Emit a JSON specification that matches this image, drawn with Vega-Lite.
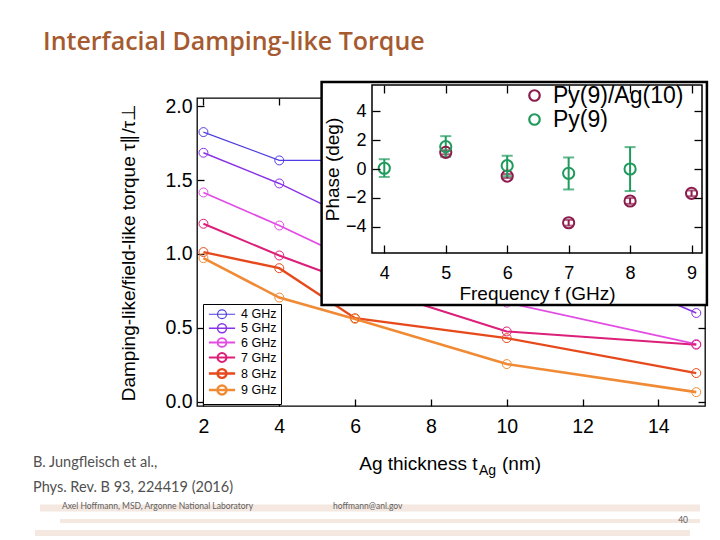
{
  "$schema": "https://vega.github.io/schema/vega-lite/v6.json",
  "width": 508,
  "height": 308,
  "autosize": {"type": "none"},
  "padding": {"left": 197, "top": 98, "right": 15, "bottom": 134},
  "background": "white",
  "title": {
    "text": "Interfacial Damping-like Torque",
    "anchor": "start",
    "frame": "group",
    "dx": -154,
    "offset": 0,
    "dy": -26,
    "font": "Open Sans",
    "fontSize": 25,
    "fontWeight": 600,
    "color": "#a65a30"
  },
  "config": {
    "view": {"stroke": "black", "strokeWidth": 1.3},
    "font": "Liberation Sans",
    "axis": {
      "labelFont": "Liberation Sans",
      "titleFont": "Liberation Sans",
      "labelColor": "black",
      "titleColor": "black",
      "tickColor": "black",
      "domainColor": "black",
      "grid": false,
      "titleFontWeight": "normal",
      "labelFlush": false,
      "labelOverlap": false,
      "tickWidth": 1.3
    },
    "legend": {"labelFont": "Liberation Sans", "labelColor": "black"}
  },
  "resolve": {
    "scale": {"x": "independent", "y": "independent", "color": "independent", "strokeWidth": "independent"},
    "axis": {"x": "independent", "y": "independent"},
    "legend": {"color": "independent", "strokeWidth": "independent"}
  },
  "layer": [
    {
      "layer": [
        {
          "data": {"values": [{"band": 1}]},
          "mark": {"type": "rule", "color": "#f4e8e0", "strokeWidth": 7},
          "encoding": {"x": {"datum": -2.311, "type": "quantitative", "scale": {"domain": [1.83, 15.23], "nice": false, "zero": false}}, "x2": {"datum": 15.098}, "y": {"datum": -0.721, "type": "quantitative", "scale": {"domain": [-0.03, 2.057], "nice": false, "zero": false}}}
        },
        {
          "data": {"values": [{"band": 2}]},
          "mark": {"type": "rule", "color": "#f4e8e0", "strokeWidth": 4},
          "encoding": {"x": {"datum": -1.784, "type": "quantitative"}, "x2": {"datum": 15.098}, "y": {"datum": -0.809, "type": "quantitative"}}
        },
        {
          "data": {"values": [{"band": 3}]},
          "mark": {"type": "rule", "color": "#f4e8e0", "strokeWidth": 6},
          "encoding": {"x": {"datum": -2.443, "type": "quantitative"}, "x2": {"datum": 14.834}, "y": {"datum": -0.89, "type": "quantitative"}}
        },
        {
          "data": {"values": [
            {"freq": "4 GHz", "t": 2, "ratio": 1.826},
            {"freq": "4 GHz", "t": 4, "ratio": 1.634},
            {"freq": "4 GHz", "t": 6, "ratio": 1.634},
            {"freq": "4 GHz", "t": 10, "ratio": 1.35},
            {"freq": "4 GHz", "t": 15, "ratio": 1.05},
            {"freq": "5 GHz", "t": 2, "ratio": 1.686},
            {"freq": "5 GHz", "t": 4, "ratio": 1.478},
            {"freq": "5 GHz", "t": 6, "ratio": 1.23},
            {"freq": "5 GHz", "t": 10, "ratio": 1.15},
            {"freq": "5 GHz", "t": 15, "ratio": 0.6},
            {"freq": "6 GHz", "t": 2, "ratio": 1.417},
            {"freq": "6 GHz", "t": 4, "ratio": 1.193},
            {"freq": "6 GHz", "t": 6, "ratio": 0.95},
            {"freq": "6 GHz", "t": 10, "ratio": 0.67},
            {"freq": "6 GHz", "t": 15, "ratio": 0.39},
            {"freq": "7 GHz", "t": 2, "ratio": 1.205},
            {"freq": "7 GHz", "t": 4, "ratio": 0.99},
            {"freq": "7 GHz", "t": 6, "ratio": 0.8},
            {"freq": "7 GHz", "t": 10, "ratio": 0.475},
            {"freq": "7 GHz", "t": 15, "ratio": 0.385},
            {"freq": "8 GHz", "t": 2, "ratio": 1.013},
            {"freq": "8 GHz", "t": 4, "ratio": 0.904},
            {"freq": "8 GHz", "t": 6, "ratio": 0.565},
            {"freq": "8 GHz", "t": 10, "ratio": 0.43},
            {"freq": "8 GHz", "t": 15, "ratio": 0.193},
            {"freq": "9 GHz", "t": 2, "ratio": 0.972},
            {"freq": "9 GHz", "t": 4, "ratio": 0.705},
            {"freq": "9 GHz", "t": 6, "ratio": 0.56},
            {"freq": "9 GHz", "t": 10, "ratio": 0.254},
            {"freq": "9 GHz", "t": 15, "ratio": 0.064}
          ]},
          "layer": [
            {
              "mark": {"type": "line"},
              "encoding": {
                "x": {"field": "t", "type": "quantitative",
                  "axis": {"orient": "bottom", "values": [2, 4, 6, 8, 10, 12, 14], "title": null, "domain": false, "tickSize": -7, "labelFontSize": 19.5, "labelPadding": 18}},
                "y": {"field": "ratio", "type": "quantitative",
                  "title": "Damping-like/field-like torque τ∥/τ⊥",
                  "axis": {"orient": "left", "values": [0, 0.5, 1, 1.5, 2], "format": ".1f", "domain": false, "tickSize": -7, "labelFontSize": 19.5, "labelPadding": 12, "titleFontSize": 19, "titlePadding": 26}},
                "color": {"field": "freq", "type": "nominal",
                  "scale": {"domain": ["4 GHz", "5 GHz", "6 GHz", "7 GHz", "8 GHz", "9 GHz"], "range": ["#4f3fe0", "#8a32e6", "#e34ce4", "#dc1f78", "#e64a1c", "#f08a35"]},
                  "legend": {"title": null, "orient": "none", "legendX": 6, "legendY": 206, "symbolType": "M-2.5,0L2.5,0M-0.85,0A0.85,0.85,0,1,1,0.85,0A0.85,0.85,0,1,1,-0.85,0", "symbolSize": 110, "symbolStrokeWidth": 1.6, "symbolFillColor": "transparent", "symbolOffset": 8, "labelFontSize": 12.5, "strokeColor": "black", "fillColor": "white", "padding": 4, "rowPadding": -4, "labelOffset": 12}},
                "strokeWidth": {"field": "freq", "type": "nominal",
                  "scale": {"domain": ["4 GHz", "5 GHz", "6 GHz", "7 GHz", "8 GHz", "9 GHz"], "range": [1.2, 2.6, 1.6, 3, 3, 2]},
                  "legend": null}
              }
            },
            {
              "mark": {"type": "point", "shape": "circle", "filled": false, "size": 80, "strokeWidth": 1, "opacity": 1},
              "encoding": {
                "x": {"field": "t", "type": "quantitative"},
                "y": {"field": "ratio", "type": "quantitative", "title": "Damping-like/field-like torque τ∥/τ⊥"},
                "color": {"field": "freq", "type": "nominal"}
              }
            }
          ]
        },
        {
          "data": {"values": [{"label": "Ag thickness t"}]},
          "mark": {"type": "text", "align": "right", "baseline": "alphabetic", "font": "Liberation Sans", "fontSize": 19, "color": "black"},
          "encoding": {"x": {"datum": 9.229, "type": "quantitative"}, "y": {"datum": -0.463, "type": "quantitative"}, "text": {"field": "label"}}
        },
        {
          "data": {"values": [{"label": "Ag"}]},
          "mark": {"type": "text", "align": "left", "baseline": "alphabetic", "font": "Liberation Sans", "fontSize": 14, "color": "black"},
          "encoding": {"x": {"datum": 9.269, "type": "quantitative"}, "y": {"datum": -0.497, "type": "quantitative"}, "text": {"field": "label"}}
        },
        {
          "data": {"values": [{"label": "(nm)"}]},
          "mark": {"type": "text", "align": "left", "baseline": "alphabetic", "font": "Liberation Sans", "fontSize": 19, "color": "black"},
          "encoding": {"x": {"datum": 9.875, "type": "quantitative"}, "y": {"datum": -0.463, "type": "quantitative"}, "text": {"field": "label"}}
        },
        {
          "data": {"values": [{"label": "B. Jungfleisch et al.,"}]},
          "mark": {"type": "text", "align": "left", "baseline": "middle", "font": "Lato", "fontSize": 14.5, "color": "#505050"},
          "encoding": {"x": {"datum": -2.496, "type": "quantitative"}, "y": {"datum": -0.416, "type": "quantitative"}, "text": {"field": "label"}}
        },
        {
          "data": {"values": [{"label": "Phys. Rev. B 93, 224419 (2016)"}]},
          "mark": {"type": "text", "align": "left", "baseline": "middle", "font": "Lato", "fontSize": 14.5, "color": "#505050"},
          "encoding": {"x": {"datum": -2.496, "type": "quantitative"}, "y": {"datum": -0.585, "type": "quantitative"}, "text": {"field": "label"}}
        },
        {
          "data": {"values": [{"label": "Axel Hoffmann, MSD, Argonne National Laboratory"}]},
          "mark": {"type": "text", "align": "left", "baseline": "middle", "font": "Lato", "fontSize": 8.5, "color": "#606060"},
          "encoding": {"x": {"datum": -1.731, "type": "quantitative"}, "y": {"datum": -0.707, "type": "quantitative"}, "text": {"field": "label"}}
        },
        {
          "data": {"values": [{"label": "hoffmann@anl.gov"}]},
          "mark": {"type": "text", "align": "left", "baseline": "middle", "font": "Lato", "fontSize": 8.5, "color": "#606060"},
          "encoding": {"x": {"datum": 5.417, "type": "quantitative"}, "y": {"datum": -0.707, "type": "quantitative"}, "text": {"field": "label"}}
        },
        {
          "data": {"values": [{"label": "40"}]},
          "mark": {"type": "text", "align": "right", "baseline": "middle", "font": "Lato", "fontSize": 8.5, "color": "#606060"},
          "encoding": {"x": {"datum": 14.782, "type": "quantitative"}, "y": {"datum": -0.802, "type": "quantitative"}, "text": {"field": "label"}}
        }
      ]
    },
    {
      "data": {"values": [{"a": 0}]},
      "mark": {"type": "point", "opacity": 0},
      "encoding": {
        "x": {"datum": 5, "type": "quantitative", "scale": {"domain": [1.83, 15.23], "nice": false, "zero": false},
          "axis": {"orient": "top", "values": [2, 4, 6, 8, 10, 12, 14], "labels": false, "domain": false, "tickSize": -7, "title": null}},
        "y": {"datum": 1, "type": "quantitative", "scale": {"domain": [-0.03, 2.057], "nice": false, "zero": false},
          "axis": {"orient": "right", "values": [0, 0.5, 1, 1.5, 2], "labels": false, "domain": false, "tickSize": -7, "title": null}}
      }
    },
    {
      "layer": [
        {
          "data": {"values": [{"frame": "outer"}]},
          "mark": {"type": "rect", "fill": "white", "stroke": "black", "strokeWidth": 2.5},
          "encoding": {
            "x": {"datum": 2.98, "type": "quantitative", "scale": {"domain": [3.8, 9.17], "range": [175, 505], "nice": false, "zero": false}, "title": "Frequency f (GHz)"},
            "x2": {"datum": 9.25},
            "y": {"datum": 6.04, "type": "quantitative", "scale": {"domain": [-5.83, 5.83], "range": [155, -13], "nice": false, "zero": false}, "title": "Phase (deg)"},
            "y2": {"datum": -9.44}
          }
        },
        {
          "data": {"values": [{"frame": "inner"}]},
          "mark": {"type": "rect", "fill": "transparent", "stroke": "black", "strokeWidth": 1.5},
          "encoding": {
            "x": {"datum": 3.8, "type": "quantitative", "title": "Frequency f (GHz)"},
            "x2": {"datum": 9.17},
            "y": {"datum": -5.83, "type": "quantitative", "title": "Phase (deg)"},
            "y2": {"datum": 5.83}
          }
        },
        {
          "data": {"values": [
            {"sample": "Py(9)/Ag(10)", "f": 5, "phase": 1.16, "lo": 1.02, "hi": 1.3},
            {"sample": "Py(9)/Ag(10)", "f": 6, "phase": -0.49, "lo": -0.63, "hi": -0.35},
            {"sample": "Py(9)/Ag(10)", "f": 7, "phase": -3.73, "lo": -3.93, "hi": -3.53},
            {"sample": "Py(9)/Ag(10)", "f": 8, "phase": -2.22, "lo": -2.42, "hi": -2.02},
            {"sample": "Py(9)/Ag(10)", "f": 9, "phase": -1.69, "lo": -1.89, "hi": -1.49},
            {"sample": "Py(9)", "f": 4, "phase": 0.05, "lo": -0.55, "hi": 0.68},
            {"sample": "Py(9)", "f": 5, "phase": 1.55, "lo": 0.85, "hi": 2.28},
            {"sample": "Py(9)", "f": 6, "phase": 0.23, "lo": -0.5, "hi": 0.92},
            {"sample": "Py(9)", "f": 7, "phase": -0.3, "lo": -1.42, "hi": 0.8},
            {"sample": "Py(9)", "f": 8, "phase": 0.0, "lo": -1.53, "hi": 1.52}
          ]},
          "layer": [
            {
              "transform": [{"filter": "datum.sample === 'Py(9)/Ag(10)'"}],
              "mark": {"type": "errorbar", "ticks": true, "size": 9, "thickness": 2, "color": "#8c1c4c"},
              "encoding": {
                "x": {"field": "f", "type": "quantitative", "title": "Frequency f (GHz)"},
                "y": {"field": "lo", "type": "quantitative", "title": "Phase (deg)"},
                "y2": {"field": "hi"}
              }
            },
            {
              "transform": [{"filter": "datum.sample === 'Py(9)'"}],
              "mark": {"type": "errorbar", "ticks": true, "size": 11, "thickness": 2, "color": "#1f9a5c"},
              "encoding": {
                "x": {"field": "f", "type": "quantitative", "title": "Frequency f (GHz)"},
                "y": {"field": "lo", "type": "quantitative", "title": "Phase (deg)"},
                "y2": {"field": "hi"}
              }
            },
            {
              "mark": {"type": "point", "shape": "circle", "filled": false, "size": 125, "strokeWidth": 2, "opacity": 1},
              "encoding": {
                "x": {"field": "f", "type": "quantitative", "title": "Frequency f (GHz)",
                  "axis": {"orient": "bottom", "offset": -153, "values": [4, 5, 6, 7, 8, 9], "format": "d", "domain": false, "tickSize": -8, "labelFontSize": 18, "labelPadding": 19, "titleFontSize": 19, "titlePadding": 2, "zindex": 1}},
                "y": {"field": "phase", "type": "quantitative", "title": "Phase (deg)",
                  "axis": {"orient": "left", "offset": -175, "values": [-4, -2, 0, 2, 4], "domain": false, "tickSize": -8, "labelFontSize": 18, "labelPadding": 14, "titleFontSize": 19, "titlePadding": 3, "zindex": 1}},
                "color": {"field": "sample", "type": "nominal",
                  "scale": {"domain": ["Py(9)/Ag(10)", "Py(9)"], "range": ["#8c1c4c", "#1f9a5c"]},
                  "legend": {"title": null, "orient": "none", "legendX": 326, "legendY": -14, "symbolType": "circle", "symbolSize": 110, "symbolStrokeWidth": 2.2, "symbolFillColor": "transparent", "labelFontSize": 23, "labelOffset": 7, "rowPadding": -4, "padding": 0}}
              }
            }
          ]
        }
      ]
    },
    {
      "data": {"values": [{"a": 0}]},
      "mark": {"type": "point", "opacity": 0},
      "encoding": {
        "x": {"datum": 5, "type": "quantitative", "scale": {"domain": [3.8, 9.17], "range": [175, 505], "nice": false, "zero": false},
          "axis": {"orient": "top", "offset": 13, "values": [4, 5, 6, 7, 8, 9], "labels": false, "domain": false, "tickSize": -8, "title": null, "zindex": 1}},
        "y": {"datum": 0, "type": "quantitative", "scale": {"domain": [-5.83, 5.83], "range": [155, -13], "nice": false, "zero": false},
          "axis": {"orient": "right", "offset": -3, "values": [-4, -2, 0, 2, 4], "labels": false, "domain": false, "tickSize": -8, "title": null, "zindex": 1}}
      }
    }
  ]
}
